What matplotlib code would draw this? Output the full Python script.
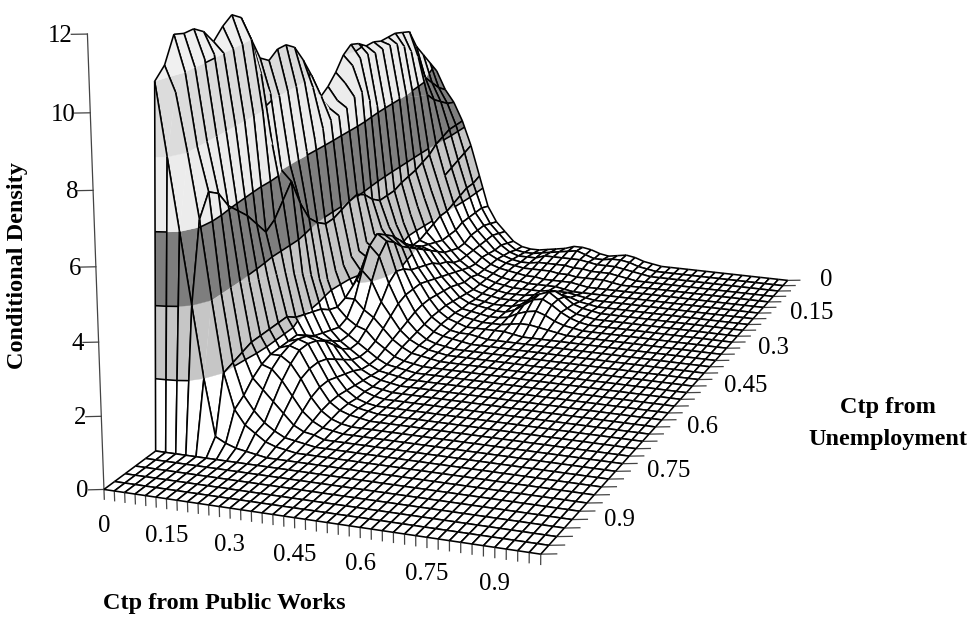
import numpy as np, matplotlib
matplotlib.use('Agg')
import matplotlib.pyplot as plt
from matplotlib.collections import PolyCollection
from mpl_toolkits.mplot3d import proj3d

W, H = 976, 619
plt.rcParams['font.family'] = ['Liberation Serif', 'DejaVu Serif']

# density: one list per Ctp-from-Unemployment step (0.025),
# values per Ctp-from-Public-Works step (0.025); the columns left out are the flat zero floor
density_rows = [
 [5.8,5.2,4.8,4.2,3.4,2.4,1.4,.9,.6,.3,.15,.1,.1,.15,.2,.25,.35,.35,.3,.2,.15,.2,.25,.2,.1,.05],
 [6.2,5.4,4.9,4.2,3.3,2.3,1.5,1.0,.7,.4,.2,.15,.15,.2,.25,.3,.35,.4,.3,.2,.2,.25,.25,.2,.1,.05],
 [6.6,5.7,5.1,4.2,3.2,2.3,1.5,1.1,.8,.5,.3,.2,.2,.2,.3,.3,.3,.3,.3,.25,.2,.2,.2,.15,.1,.05],
 [7.0,6.0,5.3,4.1,3.1,2.2,1.5,1.1,.8,.5,.35,.25,.2,.2,.25,.25,.25,.25,.2,.2,.15,.15,.15,.1,.05],
 [7.6,6.8,5.6,4.0,3.0,2.1,1.5,1.1,.8,.55,.4,.3,.25,.2,.2,.2,.2,.15,.15,.1,.1,.1,.1,.05],
 [7.7,7.1,5.7,3.8,2.9,2.0,1.4,1.0,.8,.6,.4,.3,.25,.2,.15,.15,.1,.1,.1,.1,.05],
 [7.8,7.4,5.8,3.7,2.8,2.0,1.4,1.0,.8,.55,.4,.3,.2,.15,.15,.1,.1,.1,.1,.05],
 [7.8,7.6,6.0,3.6,2.7,1.9,1.4,1.1,.8,.6,.4,.3,.2,.15,.1,.1,.1,.1,.15,.15,.15,.1,.05],
 [7.8,7.7,6.1,3.55,2.6,1.8,1.5,1.2,.9,.7,.5,.3,.2,.15,.1,.1,.1,.15,.2,.25,.25,.2,.1,.05],
 [7.9,7.7,6.1,3.5,2.5,1.7,1.6,1.4,1.1,.8,.5,.3,.2,.15,.1,.1,.1,.15,.3,.45,.55,.4,.2,.1,.05],
 [7.9,7.7,6.1,3.4,2.4,1.7,1.7,1.6,1.2,.9,.6,.35,.2,.15,.1,.1,.1,.2,.4,.6,.7,.5,.25,.1,.05],
 [8.1,7.8,6.2,3.4,2.5,1.9,1.9,1.8,1.4,1.0,.7,.4,.25,.2,.15,.1,.1,.2,.4,.6,.65,.5,.3,.15,.05],
 [8.2,7.8,6.5,3.4,2.6,2.1,2.1,2.0,1.5,1.1,.75,.45,.25,.2,.15,.1,.1,.15,.3,.4,.45,.35,.2,.1,.05],
 [8.0,7.7,6.9,3.6,2.7,2.3,2.4,2.2,1.6,1.2,.8,.5,.3,.2,.15,.1,.1,.1,.15,.2,.2,.15,.1,.05],
 [7.6,7.3,6.9,3.9,2.7,2.4,2.7,2.4,1.7,1.3,.85,.5,.3,.2,.1,.1,.1,.1,.1,.05],
 [7.3,6.9,6.7,4.06,2.6,2.4,2.9,2.7,1.9,1.3,.85,.5,.3,.15,.1,.1,.05],
 [7.1,6.8,6.6,4.0,2.5,2.3,3.1,2.9,2.0,1.3,.8,.45,.25,.15,.1,.05],
 [7.9,7.3,6.6,3.9,2.5,2.1,2.9,2.6,1.8,1.2,.7,.4,.2,.1,.05],
 [8.5,7.7,6.5,3.8,2.4,1.8,2.3,2.0,1.4,1.0,.6,.35,.2,.1,.05],
 [9.0,8.0,6.3,3.8,2.4,1.6,1.6,1.3,1.1,.8,.5,.3,.15,.1,.05],
 [9.2,8.0,6.1,4.0,2.3,1.5,1.2,1.0,.9,.6,.4,.2,.1,.05],
 [9.2,8.0,6.0,4.3,2.5,1.6,1.1,.9,.7,.5,.3,.15,.1,.05],
 [9.0,8.0,6.0,4.9,2.8,1.8,1.2,.9,.7,.5,.3,.15,.1,.05],
 [9.2,8.2,6.0,5.7,3.0,1.9,1.3,1.1,.9,.6,.35,.2,.1,.05],
 [9.9,8.9,6.9,5.3,3.2,2.0,1.4,1.3,1.2,.8,.5,.25,.1,.05],
 [10.6,10.0,8.0,4.9,3.4,2.1,1.6,1.6,1.5,1.0,.6,.3,.15,.05],
 [10.8,10.0,8.0,4.7,3.5,2.3,1.8,1.8,1.7,1.2,.7,.35,.15,.05],
 [10.6,10.0,8.0,5.1,3.6,2.3,1.8,1.9,1.8,1.3,.8,.4,.2,.1,.05],
 [10.3,10.0,8.0,5.5,3.7,2.3,1.8,1.9,1.8,1.3,.8,.4,.2,.1,.05],
 [10.7,10.1,8.0,5.8,3.8,2.3,1.8,1.8,1.6,1.2,.7,.35,.15,.05],
 [10.9,10.1,8.0,6.1,4.0,2.3,1.7,1.6,1.3,.9,.5,.25,.1,.05],
 [10.9,10.0,8.0,6.6,4.0,2.2,1.5,1.2,.9,.6,.3,.15,.1],
 [11.0,10.0,8.0,6.8,4.0,2.1,1.2,.8,.5,.3,.15,.1,.05],
 [10.3,9.6,8.0,6.2,4.0,2.0,1.0,.6,.4,.2,.1,.05],
 [10.0,8.0,6.0,4.0,2.0,.4,.25,.15,.1,.05],
 [], [], [], [], [], [],
]
z_ticks = [0, 2, 4, 6, 8, 10, 12]
pw_labels = ['0', '0.15', '0.3', '0.45', '0.6', '0.75', '0.9']
un_labels = ['0', '0.15', '0.3', '0.45', '0.6', '0.75', '0.9']
label_values = [0, .15, .3, .45, .6, .75, .9]
band_edges = [-1, 2, 4, 6, 8, 10, 13]
band_colors = ['#ffffff', '#c6c6c6', '#7e7e7e', '#ececec', '#dcdcdc', '#f0f0f0']
contour_levels = [2, 4, 6, 8, 10]

N = 41
Z = np.zeros((N, N))
for j, row in enumerate(density_rows):
    Z[j, :len(row)] = row
grid = np.linspace(0, 1, N)


def clip_z(poly, lo, hi):
    for sign, lim in ((1, lo), (-1, hi)):
        out = []
        for a, b in zip(poly, poly[1:] + poly[:1]):
            da, db = sign * (a[2] - lim), sign * (b[2] - lim)
            if da >= 0:
                out.append(a)
            if da * db < 0:
                t = da / (da - db)
                out.append(tuple(a[k] + t * (b[k] - a[k]) for k in range(3)))
        poly = out
        if not poly:
            return []
    return poly


polys, faces, edges, widths = [], [], [], []
LW = 1.15
for j in range(N - 1):
    for i in range(N - 1):
        q = [(grid[i], grid[j], Z[j, i]), (grid[i + 1], grid[j], Z[j, i + 1]),
             (grid[i + 1], grid[j + 1], Z[j + 1, i + 1]), (grid[i], grid[j + 1], Z[j + 1, i])]
        for lo, hi, col in zip(band_edges[:-1], band_edges[1:], band_colors):
            piece = clip_z(q, lo, hi)
            if len(piece) >= 3:
                polys.append(piece); faces.append(col); edges.append(col); widths.append(0.25)
        for lev in contour_levels:
            pts = []
            for a, b in zip(q, q[1:] + q[:1]):
                if (a[2] - lev) * (b[2] - lev) < 0:
                    t = (lev - a[2]) / (b[2] - a[2])
                    pts.append(tuple(a[k] + t * (b[k] - a[k]) for k in range(3)))
            for s in range(0, len(pts) - 1, 2):
                polys.append([pts[s], pts[s + 1]]); faces.append('none'); edges.append('k'); widths.append(LW)
        for n, (a, b) in enumerate(zip(q, q[1:] + q[:1])):
            ii = i + (1 if n == 1 else 0)
            along_u = n in (1, 3)
            if along_u and ii in (1, 2, 4) and 4 <= j <= 33:
                continue
            polys.append([a, b]); faces.append('none'); edges.append('k'); widths.append(LW)


class PaintedSurface(PolyCollection):
    """Polygons in 3-D drawn in a fixed back-to-front order."""
    def __init__(self, polys3d, **kw):
        self.polys3d = polys3d
        self.flat = np.array([p for poly in polys3d for p in poly])
        self.cuts = np.cumsum([len(p) for p in polys3d])[:-1]
        super().__init__([], **kw)

    def do_3d_projection(self):
        x, y, z = proj3d.proj_transform(self.flat[:, 0], self.flat[:, 1], self.flat[:, 2], self.axes.get_proj())
        self.set_verts(np.split(np.column_stack([x, y]), self.cuts), closed=False)
        return 0


fig = plt.figure(figsize=(W / 100, H / 100), dpi=100)
ax = fig.add_axes([-31.098 / W, -66.1001 / H, 997.9141 / W, 997.9141 / H], projection='3d', computed_zorder=False)
ax.set_axis_off()
ax.set_xlim(0, 1); ax.set_ylim(1, 0); ax.set_zlim(0, 12)
ax.view_init(15.5222, -69.4303, -0.061)
ax.set_proj_type('persp', focal_length=0.5353)
ax.set_box_aspect((1, 1.9695, 1.007))

surf = PaintedSurface(polys, facecolors=faces, edgecolors=edges, linewidths=widths, closed=False, zorder=2)
surf.set_clip_on(False)
ax.add_collection(surf, autolim=False)

tick_col = '#444444'
kw = dict(color=tick_col, lw=0.9, clip_on=False, zorder=1)
ax.plot([0, 0], [1, 1], [0, 12], **kw)
for z in z_ticks:
    ax.plot([0, -0.03], [1, 1.007], [z, z], **kw)
for v in grid:
    ax.plot([v, v], [1, 1], [0, -0.27], **kw)
    ax.plot([1, 1.03], [v, v - 0.0066], [0, 0], **kw)

M = ax.get_proj()


def place(text, x, y, z, dx, dy, **k):
    vx, vy, _ = proj3d.proj_transform(x, y, z, M)
    ax.annotate(text, (vx, vy), xytext=(dx, dy), textcoords='offset pixels', annotation_clip=False, **k)


FS = 17.8
for z in z_ticks:
    place(str(z), 0, 1, z, -15, -2, ha='right', va='center', fontsize=FS)
for v, t in zip(label_values, pw_labels):
    place(t, v, 1, 0, 0, -37, ha='center', va='center', fontsize=FS)
for v, t in zip(label_values, un_labels):
    place(t, 1, v, 0, 32, 0, ha='left', va='center', fontsize=FS)

TS = 17.5
fig.text(18 / W, 1 - 266 / H, 'Conditional Density', rotation=90, ha='center', va='center', fontsize=TS, fontweight='bold')
fig.text(103 / W, 1 - 603 / H, 'Ctp from Public Works', ha='left', va='center', fontsize=TS, fontweight='bold')
fig.text(888 / W, 1 - 408 / H, 'Ctp from', ha='center', va='center', fontsize=TS, fontweight='bold')
fig.text(888 / W, 1 - 440 / H, 'Unemployment', ha='center', va='center', fontsize=TS, fontweight='bold')
fig.savefig('out.png', dpi=100)
